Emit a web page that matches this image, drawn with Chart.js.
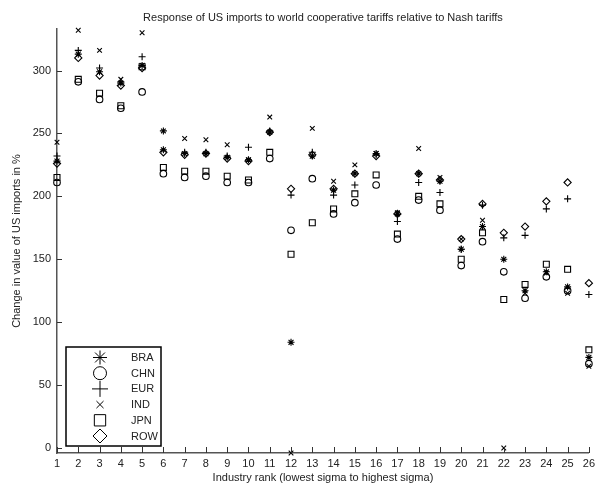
<!DOCTYPE html>
<html>
<head>
<meta charset="utf-8">
<script src="https://cdn.jsdelivr.net/npm/chart.js@4/dist/chart.umd.min.js"></script>
<style>
    html, body { margin: 0; padding: 0; background: #fff; }
    #wrap { width: 599px; height: 491px; }
</style>
</head>
<body>
<div id="wrap"><canvas id="imports-chart"></canvas></div>
<script>
// industry rank 1..26 and change in US imports (%) per partner
const RANKS = [1, 2, 3, 4, 5, 6, 7, 8, 9, 10, 11, 12, 13, 14, 15, 16, 17, 18, 19, 20, 21, 22, 23, 24, 25, 26];
const BRA = [228, 313, 299, 290, 304, 237, 234, 234, 231, 229, 251, 84, 232, 205, 218, 234, 186, 218, 212, 158, 176, 150, 125, 140, 128, 72];
const CHN = [211, 291, 277, 270, 283, 218, 215, 216, 211, 211, 230, 173, 214, 186, 195, 209, 166, 197, 189, 145, 164, 140, 119, 136, 125, 67];
const EUR = [232, 316, 302, 291, 311, 252, 235, 235, 232, 239, 252, 201, 235, 201, 209, 233, 180, 211, 203, 158, 193, 167, 169, 190, 198, 122];
const IND = [243, 332, 316, 293, 330, 252, 246, 245, 241, 229, 263, -4, 254, 212, 225, 234, 187, 238, 215, 166, 181, 0, 123, 139, 123, 65];
const JPN = [215, 293, 282, 272, 303, 223, 220, 220, 216, 213, 235, 154, 179, 190, 202, 217, 170, 200, 194, 150, 171, 118, 130, 146, 142, 78];
const ROW = [226, 310, 296, 288, 302, 235, 233, 234, 230, 228, 251, 206, 233, 206, 218, 232, 186, 218, 213, 166, 194, 171, 176, 196, 211, 131];
const Y_TICKS = [0, 50, 100, 150, 200, 250, 300];

const FONT = { family: '"Liberation Sans", Arial, sans-serif', size: 11 };

const SERIES = [
    { label: 'BRA', values: BRA, style: 'star', r: 3.5, legendR: 7 },
    { label: 'CHN', values: CHN, style: 'circle', r: 3.3, legendR: 6.5 },
    { label: 'EUR', values: EUR, style: 'cross', r: 3.5, legendR: 8 },
    { label: 'IND', values: IND, style: 'crossRot', r: 3.3, legendR: 5 },
    { label: 'JPN', values: JPN, style: 'rect', r: 4.2, legendR: 8 },
    { label: 'ROW', values: ROW, style: 'rectRot', r: 3.6, legendR: 7 }
];

function toPoints(values) {
    return RANKS.map((rank, i) => ({ x: rank, y: values[i] }));
}

// matlab style ticks pointing into the plot
const innerTicks = {
    id: 'innerTicks',
    afterDatasetsDraw(chart) {
        const ctx = chart.ctx;
        const area = chart.chartArea;
        const xs = chart.scales.x, ys = chart.scales.y;
        ctx.save();
        ctx.strokeStyle = '#333';
        ctx.lineWidth = 1;
        ctx.beginPath();
        ys.ticks.forEach(t => {
            const py = Math.round(ys.getPixelForValue(t.value)) + 0.5;
            ctx.moveTo(area.left, py);
            ctx.lineTo(area.left + 5, py);
        });
        xs.ticks.forEach(t => {
            const px = Math.round(xs.getPixelForValue(t.value)) + 0.5;
            ctx.moveTo(px, area.bottom);
            ctx.lineTo(px, area.bottom - 6);
        });
        ctx.stroke();
        ctx.restore();
    }
};

// boxed legend in the lower left corner
const boxLegend = {
    id: 'boxLegend',
    afterDatasetsDraw(chart) {
        const ctx = chart.ctx;
        const left = 66, top = 347, w = 95, h = 99, rowH = 15.7;
        ctx.save();
        ctx.fillStyle = '#fff';
        ctx.fillRect(left, top, w, h);
        ctx.strokeStyle = '#000';
        ctx.lineWidth = 1.5;
        ctx.strokeRect(left, top, w, h);
        ctx.font = '11px ' + FONT.family;
        ctx.textBaseline = 'middle';
        SERIES.forEach((s, i) => {
            const y = top + 10.5 + i * rowH;
            ctx.strokeStyle = '#000';
            ctx.fillStyle = 'rgba(0,0,0,0)';
            ctx.lineWidth = 1;
            Chart.helpers.drawPoint(ctx, { pointStyle: s.style, radius: s.legendR, borderWidth: 1, rotation: 0 }, left + 34, y);
            ctx.fillStyle = '#222';
            ctx.fillText(s.label, left + 65, y + 0.5);
        });
        ctx.restore();
    }
};

function initImportsChart() {
    const ctx = document.getElementById('imports-chart');

    new Chart(ctx, {
        type: 'scatter',
        data: {
            datasets: SERIES.map(s => ({
                label: s.label,
                data: toPoints(s.values),
                showLine: false,
                pointStyle: s.style,
                pointRadius: s.r,
                pointBorderColor: '#000',
                pointBackgroundColor: 'rgba(0,0,0,0)',
                pointBorderWidth: 1.1,
                clip: false
            }))
        },
        options: {
            responsive: true,
            maintainAspectRatio: false,
            animation: false,
            layout: { padding: { left: 0, right: 7, top: 0, bottom: 0 } },
            scales: {
                x: {
                    type: 'linear',
                    min: 1,
                    max: 26,
                    afterBuildTicks: scale => { scale.ticks = RANKS.map(v => ({ value: v })); },
                    afterFit: scale => { scale.height = 38; },
                    grid: { drawOnChartArea: false, drawTicks: false },
                    border: { display: true, color: '#555', width: 1.5 },
                    ticks: { font: FONT, color: '#222', padding: 4, maxRotation: 0, autoSkip: false },
                    title: {
                        display: true,
                        text: 'Industry rank (lowest sigma to highest sigma)',
                        font: FONT,
                        color: '#222',
                        padding: { top: 0, bottom: 6 }
                    }
                },
                y: {
                    type: 'linear',
                    min: -4,
                    max: 333,
                    afterBuildTicks: scale => { scale.ticks = Y_TICKS.map(v => ({ value: v })); },
                    afterFit: scale => { scale.width = 57; },
                    grid: { drawOnChartArea: false, drawTicks: false },
                    border: { display: true, color: '#555', width: 1.5 },
                    ticks: { font: FONT, color: '#222', padding: 6 },
                    title: {
                        display: true,
                        text: 'Change in value of US imports in %',
                        font: FONT,
                        color: '#222',
                        padding: { top: 10, bottom: 0 }
                    }
                }
            },
            plugins: {
                legend: { display: false },
                tooltip: { enabled: false },
                title: {
                    display: true,
                    text: 'Response of US imports to world cooperative tariffs relative to Nash tariffs',
                    font: { family: FONT.family, size: 11, weight: 'normal' },
                    color: '#222',
                    fullSize: false,
                    padding: { top: 11, bottom: 4.8 }
                }
            }
        },
        plugins: [innerTicks, boxLegend]
    });
}

initImportsChart();
</script>
</body>
</html>
